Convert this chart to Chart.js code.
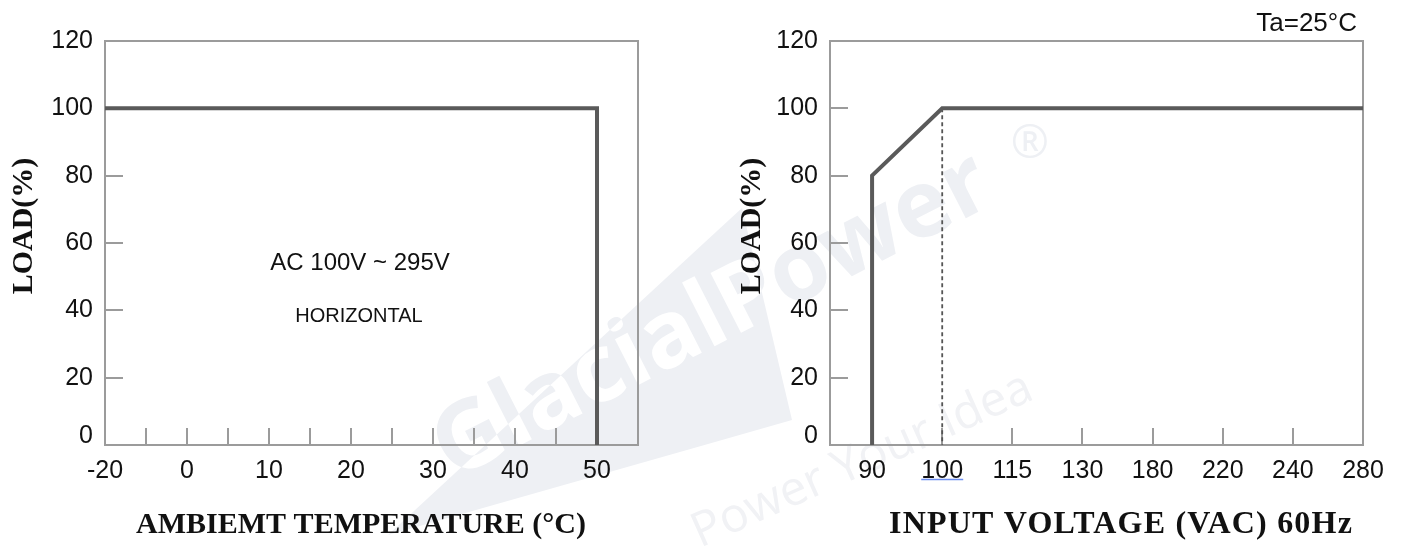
<!DOCTYPE html>
<html>
<head>
<meta charset="utf-8">
<script src="https://cdn.jsdelivr.net/npm/chart.js@4.4.1/dist/chart.umd.min.js"></script>
<style>
  html, body { margin: 0; padding: 0; background: #fff; }
  #wrap { position: relative; width: 1402px; height: 551px; overflow: hidden; }
  #wrap canvas { position: absolute; top: 0; }
</style>
</head>
<body>
<div id="wrap">
  <canvas id="tempChart" width="701" height="551" style="left:0"></canvas>
  <canvas id="voltChart" width="701" height="551" style="left:701px"></canvas>
</div>
<script>
// derating curve: load vs ambient temperature
var tempTicks = [-20, 0, 10, 20, 30, 40, 50];
var tempCurveX = [-20, 50, 50];
var tempCurveY = [100, 100, 0];

// static characteristics: load vs input voltage
var voltTicks = [90, 100, 115, 130, 180, 220, 240, 280];
var voltCurveX = [90, 90, 100, 280];
var voltCurveY = [0, 80, 100, 100];
var voltMarkX = [100, 100];
var voltMarkY = [100, 0];

var loadMax = 120;
var loadStep = 20;

// the axes are spaced per label, not per unit, so points go on the label index
function toPoints(xs, ys, ticks) {
    return xs.map(function (v, i) {
        return { x: ticks.indexOf(v), y: ys[i] };
    });
}

var tickFont = { family: "'Liberation Sans', Arial, sans-serif", size: 25 };
var titleFont = "bold 30px 'Liberation Serif', 'Times New Roman', serif";
var ink = '#111';
var curveColor = '#5a5a5a';
var frameColor = '#9b9b9b';

// faint brand mark sitting behind both plots (page coordinates)
var watermark = {
    id: 'watermark',
    beforeDraw: function (chart, args, opts) {
        var ctx = chart.ctx;
        var shade = '#eef0f4';
        ctx.save();
        ctx.translate(-opts.offsetX, 0);

        var tri = new Path2D();
        tri.moveTo(388, 535);
        tri.lineTo(742, 208);
        tri.lineTo(792, 420);
        tri.closePath();
        ctx.fillStyle = shade;
        ctx.fill(tri);

        function brand() {
            ctx.save();
            ctx.translate(452, 480);
            ctx.rotate(-27 * Math.PI / 180);
            ctx.font = "bold 94px 'Open Sans', 'Liberation Sans', sans-serif";
            ctx.fillText('GlacialPower', 0, 0);
            ctx.restore();
        }
        ctx.save();
        ctx.clip(tri);
        ctx.fillStyle = '#fff';
        brand();
        ctx.restore();

        ctx.save();
        var outside = new Path2D();
        outside.rect(0, 0, 1402, 551);
        outside.addPath(tri);
        ctx.clip(outside, 'evenodd');
        ctx.fillStyle = shade;
        brand();
        ctx.restore();

        ctx.fillStyle = '#f1f2f5';
        ctx.save();
        ctx.translate(700, 548);
        ctx.rotate(-24 * Math.PI / 180);
        ctx.font = "48px 'Open Sans', 'Liberation Sans', sans-serif";
        ctx.fillText('Power Your Idea', 0, 0);
        ctx.restore();

        ctx.fillStyle = shade;
        ctx.font = "46px 'Open Sans', 'Liberation Sans', sans-serif";
        ctx.textAlign = 'center';
        ctx.fillText('\u00AE', 1030, 158);
        ctx.restore();
    }
};

// box round the plot area plus the short inward tick marks
var frame = {
    id: 'frame',
    beforeDatasetsDraw: function (chart, args, opts) {
        var ctx = chart.ctx, a = chart.chartArea;
        var xs = chart.scales.x, ys = chart.scales.y;
        ctx.save();
        ctx.strokeStyle = frameColor;
        ctx.lineWidth = 2;
        ctx.strokeRect(a.left, a.top, a.right - a.left, a.bottom - a.top);
        ctx.beginPath();
        opts.xMarks.forEach(function (v) {
            var px = Math.round(xs.getPixelForValue(v));
            ctx.moveTo(px, a.bottom);
            ctx.lineTo(px, a.bottom - 17);
        });
        opts.yMarks.forEach(function (v) {
            var py = Math.round(ys.getPixelForValue(v));
            ctx.moveTo(a.left, py);
            ctx.lineTo(a.left + 18, py);
        });
        ctx.stroke();
        ctx.restore();
    }
};

// the "0" on the load axis sits a little above the baseline in the original
var liftZero = {
    id: 'liftZero',
    beforeDraw: function (chart, args, opts) {
        chart.scales.y.getLabelItems().forEach(function (item) {
            if (String(item.label) === '0' && !item.lifted) {
                item.options.translation[1] -= opts.shift;
                item.lifted = true;
            }
        });
    }
};

// axis titles and notes, placed where the original has them
var captions = {
    id: 'captions',
    afterDraw: function (chart, args, opts) {
        var ctx = chart.ctx;
        opts.items.forEach(function (t) {
            ctx.save();
            ctx.fillStyle = ink;
            ctx.font = t.font;
            ctx.textAlign = t.align || 'center';
            ctx.textBaseline = t.baseline || 'alphabetic';
            if (t.spacing) ctx.letterSpacing = t.spacing + 'px';
            ctx.translate(t.x, t.y);
            if (t.rotate) ctx.rotate(t.rotate * Math.PI / 180);
            ctx.fillText(t.text, 0, 0);
            ctx.restore();
        });
        if (opts.underline) {
            var px = chart.scales.x.getPixelForValue(opts.underline.value);
            ctx.save();
            ctx.strokeStyle = '#6d8ef0';
            ctx.lineWidth = 1.5;
            ctx.beginPath();
            ctx.moveTo(px - opts.underline.half, opts.underline.y);
            ctx.lineTo(px + opts.underline.half, opts.underline.y);
            ctx.stroke();
            ctx.restore();
        }
    }
};

function loadAxis(width) {
    return {
        type: 'linear',
        min: 0,
        max: loadMax,
        grid: { display: false, drawTicks: false },
        border: { display: false },
        ticks: { stepSize: loadStep, padding: 12, color: ink, font: tickFont },
        afterFit: function (scale) { scale.width = width; }
    };
}

function labelAxis(labels, min, max) {
    return {
        type: 'linear',
        min: min,
        max: max,
        grid: { display: false, drawTicks: false },
        border: { display: false },
        afterBuildTicks: function (scale) {
            scale.ticks = labels.map(function (v, i) { return { value: i }; });
        },
        ticks: {
            padding: 11,
            color: ink,
            font: tickFont,
            maxRotation: 0,
            autoSkip: false,
            callback: function (value) { return labels[value]; }
        },
        afterFit: function (scale) { scale.height = 106; }
    };
}

var tempMarks = [];
for (var i = 1; i < (tempTicks.length - 1) * 2; i++) tempMarks.push(i / 2);

new Chart(document.getElementById('tempChart').getContext('2d'), {
    type: 'line',
    data: {
        datasets: [{
            data: toPoints(tempCurveX, tempCurveY, tempTicks),
            borderColor: curveColor,
            borderWidth: 4,
            pointRadius: 0,
            tension: 0,
            borderJoinStyle: 'miter',
            fill: false
        }]
    },
    options: {
        responsive: false,
        animation: false,
        layout: { padding: { left: 0, right: 63, top: 41, bottom: 0 } },
        scales: {
            x: labelAxis(tempTicks, 0, tempTicks.length - 0.5),
            y: loadAxis(105)
        },
        plugins: {
            legend: { display: false },
            tooltip: { enabled: false },
            watermark: { offsetX: 0 },
            frame: { xMarks: tempMarks, yMarks: [20, 40, 60, 80, 100] },
            liftZero: { shift: 9 },
            captions: {
                items: [
                    { text: 'AC 100V ~ 295V', x: 360, y: 270, font: "24px 'Liberation Sans', Arial, sans-serif" },
                    { text: 'HORIZONTAL', x: 359, y: 322, font: "20px 'Liberation Sans', Arial, sans-serif" },
                    { text: 'AMBIEMT TEMPERATURE (\u00B0C)', x: 361, y: 533, font: titleFont },
                    { text: 'LOAD(%)', x: 24, y: 226, rotate: -90, baseline: 'middle', font: titleFont }
                ]
            }
        }
    },
    plugins: [watermark, frame, liftZero, captions]
});

new Chart(document.getElementById('voltChart').getContext('2d'), {
    type: 'line',
    data: {
        datasets: [{
            data: toPoints(voltCurveX, voltCurveY, voltTicks),
            borderColor: curveColor,
            borderWidth: 4,
            pointRadius: 0,
            tension: 0,
            borderJoinStyle: 'miter',
            fill: false
        }, {
            data: toPoints(voltMarkX, voltMarkY, voltTicks),
            borderColor: '#555',
            borderWidth: 1.8,
            borderDash: [4, 3],
            pointRadius: 0,
            fill: false
        }]
    },
    options: {
        responsive: false,
        animation: false,
        layout: { padding: { left: 0, right: 39, top: 41, bottom: 0 } },
        scales: {
            x: labelAxis(voltTicks, -0.6, voltTicks.length - 1),
            y: loadAxis(129)
        },
        plugins: {
            legend: { display: false },
            tooltip: { enabled: false },
            watermark: { offsetX: 701 },
            frame: { xMarks: [1, 2, 3, 4, 5, 6], yMarks: [20, 40, 60, 80, 100] },
            liftZero: { shift: 9 },
            captions: {
                items: [
                    { text: 'Ta=25\u00B0C', x: 656, y: 31, align: 'right', font: "26px 'Liberation Sans', Arial, sans-serif" },
                    { text: 'INPUT VOLTAGE (VAC) 60Hz', x: 188, y: 533, align: 'left', spacing: 1.2, font: "bold 32px 'Liberation Serif', 'Times New Roman', serif" },
                    { text: 'LOAD(%)', x: 51, y: 226, rotate: -90, baseline: 'middle', font: titleFont }
                ],
                underline: { value: 1, y: 479.5, half: 21 }
            }
        }
    },
    plugins: [watermark, frame, liftZero, captions]
});
</script>
</body>
</html>
